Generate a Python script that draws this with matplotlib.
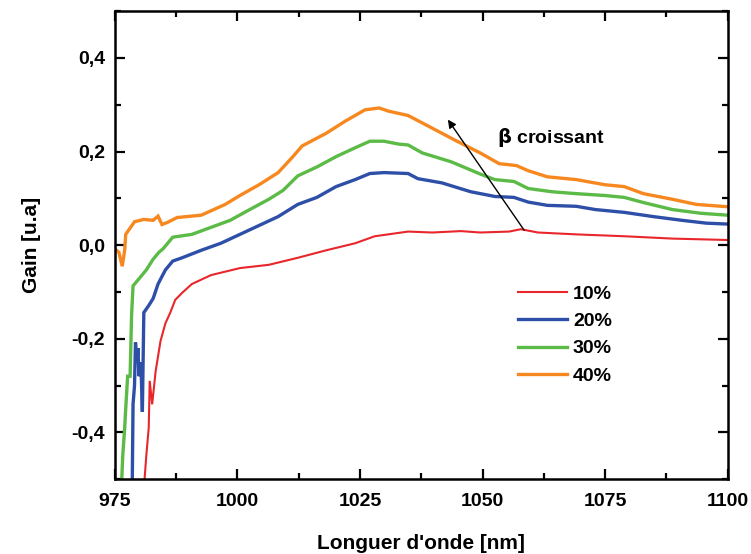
import matplotlib
matplotlib.use("Agg")
import matplotlib.pyplot as plt
from matplotlib.ticker import MultipleLocator

plt.rcParams['font.family'] = ['Liberation Sans', 'DejaVu Sans']
plt.rcParams['font.weight'] = 'bold'

# ---- data ----
labels = ['10%', '20%', '30%', '40%']
colors = ['#e8262b', '#2e4fa8', '#5bbb46', '#f7881f']

x10 = [980.7, 981.4, 981.9, 982.1, 982.6, 983.3, 984.3, 985.3, 986.3, 987.3, 988.7, 990.7,
       994.6, 1000.5, 1006.4, 1012.3, 1018.1, 1024.0, 1028.0, 1034.8, 1039.7, 1045.6,
       1049.5, 1055.4, 1057.8, 1061.3, 1069.1, 1078.9, 1088.7, 1100.0]
y10 = [-0.55, -0.45, -0.39, -0.29, -0.34, -0.27, -0.205, -0.167, -0.144, -0.117, -0.102, -0.083,
       -0.064, -0.049, -0.042, -0.027, -0.011, 0.004, 0.019, 0.029, 0.027, 0.030,
       0.027, 0.029, 0.034, 0.027, 0.023, 0.019, 0.014, 0.011]

x20 = [978.5, 978.7, 979.0, 979.2, 979.5, 979.7, 979.9, 980.3, 980.6, 980.9, 981.9, 982.8,
       983.8, 985.3, 986.8, 988.7, 992.6, 996.6, 1000.5, 1004.4, 1008.3, 1012.3, 1016.2,
       1020.1, 1024.0, 1027.0, 1029.9, 1034.8, 1036.8, 1041.7, 1047.6, 1052.5, 1056.4,
       1059.3, 1063.2, 1069.1, 1073.0, 1078.9, 1084.8, 1090.7, 1095.6, 1100.0]
y20 = [-0.55, -0.34, -0.30, -0.208, -0.25, -0.22, -0.28, -0.25, -0.356, -0.144, -0.129, -0.114,
       -0.083, -0.053, -0.034, -0.027, -0.011, 0.004, 0.023, 0.042, 0.061, 0.087, 0.102,
       0.125, 0.140, 0.153, 0.155, 0.153, 0.142, 0.133, 0.114, 0.104, 0.102,
       0.092, 0.085, 0.083, 0.076, 0.070, 0.061, 0.053, 0.047, 0.045]

x30 = [976.2, 976.6, 977.0, 977.2, 977.6, 978.1, 978.4, 978.7, 979.9, 981.4, 982.8, 984.0,
       984.8, 986.8, 990.7, 994.6, 998.5, 1002.5, 1006.4, 1009.3, 1012.3, 1016.2, 1020.1,
       1024.0, 1027.0, 1029.9, 1032.8, 1034.8, 1037.7, 1043.6, 1049.5, 1052.5, 1056.4,
       1059.3, 1064.2, 1069.1, 1075.0, 1078.9, 1082.8, 1088.7, 1094.6, 1100.0]
y30 = [-0.55, -0.45, -0.39, -0.35, -0.28, -0.28, -0.15, -0.087, -0.072, -0.053, -0.030, -0.015,
       -0.008, 0.017, 0.023, 0.038, 0.053, 0.076, 0.098, 0.117, 0.148, 0.167, 0.189,
       0.208, 0.222, 0.222, 0.216, 0.214, 0.197, 0.178, 0.152, 0.140, 0.136,
       0.121, 0.114, 0.110, 0.106, 0.102, 0.091, 0.076, 0.068, 0.064]

x40 = [975.0, 975.8, 976.5, 977.0, 977.2, 979.0, 980.9, 982.8, 983.8, 984.6, 985.8, 987.7,
       992.6, 997.5, 1000.5, 1004.4, 1008.3, 1011.3, 1013.2, 1018.1, 1022.0, 1026.0, 1028.9,
       1030.9, 1034.8, 1039.7, 1044.6, 1049.5, 1053.4, 1056.9, 1059.3, 1063.2, 1069.1,
       1075.0, 1078.9, 1082.8, 1088.7, 1093.6, 1100.0]
y40 = [-0.008, -0.015, -0.045, -0.010, 0.023, 0.050, 0.055, 0.053, 0.062, 0.044, 0.049, 0.059,
       0.064, 0.087, 0.106, 0.129, 0.155, 0.189, 0.212, 0.239, 0.265, 0.289, 0.293,
       0.286, 0.277, 0.250, 0.223, 0.197, 0.174, 0.170, 0.159, 0.146, 0.140,
       0.129, 0.125, 0.110, 0.098, 0.087, 0.082]

series_x = [x10, x20, x30, x40]
series_y = [y10, y20, y30, y40]
widths = [1.5, 2.4, 2.4, 2.4]

xticks = [975, 1000, 1025, 1050, 1075, 1100]
yticks = [-0.4, -0.2, 0.0, 0.2, 0.4]
yticklabels = ['-0,4', '-0,2', '0,0', '0,2', '0,4']

# ---- figure ----
fig = plt.figure(figsize=(7.51, 5.54), dpi=100)
ax = fig.add_axes([0.153, 0.135, 0.816, 0.845])

for xs, ys, c, lab, w in zip(series_x, series_y, colors, labels, widths):
    ax.plot(xs, ys, color=c, lw=w, label=lab, solid_joinstyle='miter')

ax.set_xlim(975, 1100)
ax.set_ylim(-0.5, 0.5)
ax.set_xticks(xticks)
ax.set_yticks(yticks)
ax.set_yticklabels(yticklabels)
ax.xaxis.set_minor_locator(MultipleLocator(12.5))
ax.yaxis.set_minor_locator(MultipleLocator(0.1))
ax.tick_params(which='both', direction='in', top=True, right=True, width=1.6)
ax.tick_params(which='major', length=7, labelsize=14, pad=7)
ax.tick_params(axis='x', which='major', pad=10)
ax.tick_params(which='minor', length=4)
for t in ax.get_xticklabels() + ax.get_yticklabels():
    t.set_fontweight('bold')
for s in ax.spines.values():
    s.set_linewidth(1.8)

ax.set_xlabel("Longuer d'onde [nm]", fontsize=15, fontweight='bold', labelpad=17)
ax.set_ylabel("Gain [u.a]", fontsize=15, fontweight='bold', labelpad=22)

ax.annotate('', xy=(1042.6, 0.273), xytext=(1058.8, 0.027),
            arrowprops=dict(arrowstyle='-|>', color='black', lw=1.0, mutation_scale=12))
ax.text(1053.0, 0.231, r'$\mathbf{\beta}$ croissant', fontsize=14, fontweight='bold',
        va='center', ha='left')

leg = ax.legend(loc='upper left', bbox_to_anchor=(0.63, 0.452), frameon=False,
                fontsize=14, handlelength=2.5, handletextpad=0.3, labelspacing=0.5)
for t in leg.get_texts():
    t.set_fontweight('bold')

fig.savefig('out.png', dpi=100)
